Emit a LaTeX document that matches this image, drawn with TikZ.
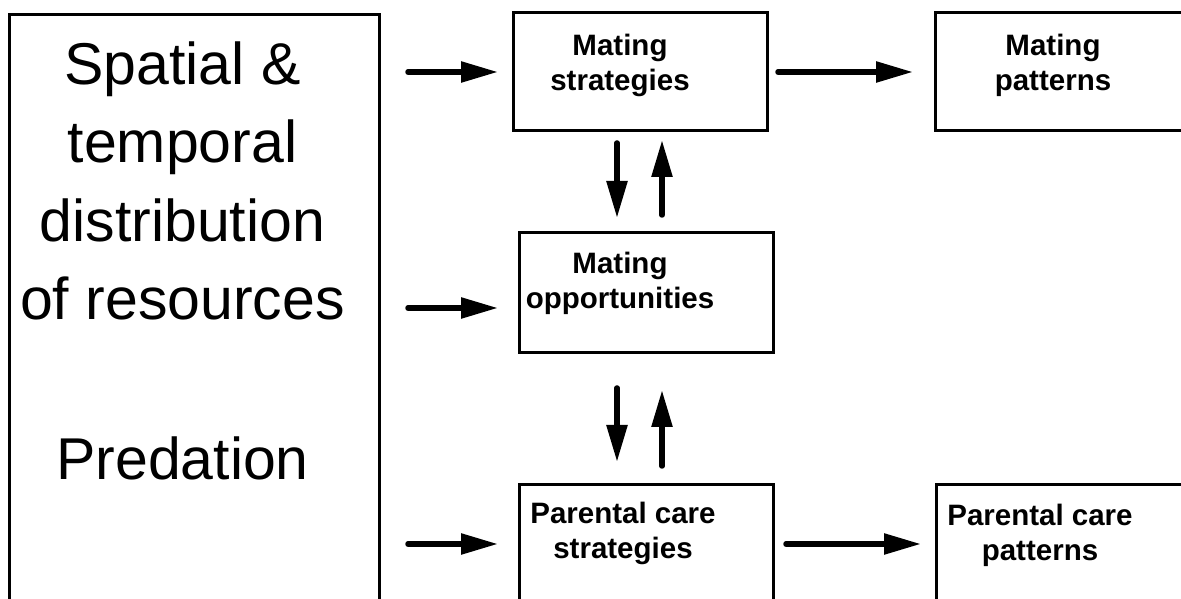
\documentclass[tikz,border=0pt]{standalone}
\usepackage{fontspec}
\setmainfont{Liberation Sans}
\usetikzlibrary{arrows.meta,positioning}

\begin{document}
\begin{tikzpicture}[
        x=1pt, y=1pt,
        box/.style={rectangle, draw, line width=3pt, minimum width=254pt, minimum height=118pt},
        boxlabel/.style={inner sep=0pt, align=center, font=\fontsize{29.5}{35}\selectfont\bfseries},
        biglabel/.style={inner sep=0pt, align=center, font=\fontsize{59}{78.5}\selectfont},
        arrow/.style={line width=5.5pt, line cap=round, -{Triangle[length=37pt,width=20pt]}}
    ]
        \useasboundingbox (0,0) rectangle (1181,599);
        \clip (0,0) rectangle (1181,599);

        % Nodes
        \node[box, minimum width=370pt, minimum height=700pt, anchor=north] (env) at (194.5,586) {};
        \node[box] (strat) at (640,527) {};
        \node[box, right=165pt of strat] (patt) {};
        \node[box, minimum height=120pt, below=99pt of strat, xshift=6.5pt] (opp) {};
        \node[box, below=129pt of opp] (pcs) {};
        \node[box, minimum width=300pt, right=160pt of pcs] (pcp) {};

        % Labels
        \node[biglabel, below=28.5pt of env.north, xshift=-12pt] (envtxt) {Spatial \&\\temporal\\distribution\\of resources\\[81.5pt]Predation};
        \node[boxlabel, below=22.5pt of strat.north, xshift=-20pt] (strattxt) {Mating\\strategies};
        \node[boxlabel, below=22.5pt of patt.north, xshift=-9pt] (patttxt) {Mating\\patterns};
        \node[boxlabel, below=20.5pt of opp.north, xshift=-26.5pt] (opptxt) {Mating\\opportunities};
        \node[boxlabel, below=18.5pt of pcs.north, xshift=-23.5pt] (pcstxt) {Parental care\\strategies};
        \node[boxlabel, below=20.5pt of pcp.north, xshift=-46.5pt] (pcptxt) {Parental care\\patterns};

        % Arrows
        \draw[arrow, shorten <=27pt, shorten >=13.5pt] (env.east |- strat.west) -- (strat.west);
        \draw[arrow, shorten <=27pt, shorten >=20pt] ([yshift=-15pt]env.east |- opp.west) -- ([yshift=-15pt]opp.west);
        \draw[arrow, shorten <=27pt, shorten >=20pt] (env.east |- pcs.west) -- (pcs.west);
        \draw[arrow, shorten <=9.5pt, shorten >=20.5pt] (strat) -- (patt);
        \draw[arrow, shorten <=11pt, shorten >=14pt] (pcs) -- (pcp);
        \draw[arrow, shorten <=10.5pt, shorten >=13.5pt] ([xshift=-23pt]strat.south) -- ([xshift=-29.5pt]opp.north);
        \draw[arrow, shorten <=16.5pt, shorten >=7.5pt] ([xshift=15.5pt]opp.north) -- ([xshift=22pt]strat.south);
        \draw[arrow, shorten <=33.5pt, shorten >=21.5pt] ([xshift=-29.5pt]opp.south) -- ([xshift=-29.5pt]pcs.north);
        \draw[arrow, shorten <=17.5pt, shorten >=35.5pt] ([xshift=15.5pt]pcs.north) -- ([xshift=15.5pt]opp.south);

    \end{tikzpicture}
\end{document}
